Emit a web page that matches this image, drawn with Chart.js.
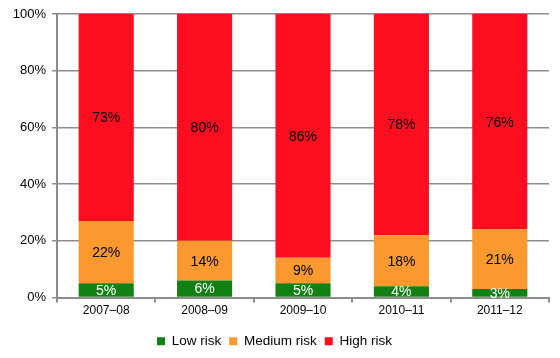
<!DOCTYPE html>
<html>
<head>
<meta charset="utf-8">
<script src="https://cdn.jsdelivr.net/npm/chart.js@4/dist/chart.umd.min.js"></script>
<style>
  html, body { margin: 0; padding: 0; background: #fff; }
  #wrap { width: 560px; height: 358px; }
</style>
</head>
<body>
<div id="wrap"><canvas id="myChart" width="560" height="358"></canvas></div>
<script>
// data
const years = ['2007\u201308', '2008\u201309', '2009\u201310', '2010\u201311', '2011\u201312'];
const lowRisk = [5, 6, 5, 4, 3];
const mediumRisk = [22, 14, 9, 18, 21];
const highRisk = [73, 80, 86, 78, 76];
const yTicks = [0, 20, 40, 60, 80, 100];

const gridGrey = '#8c8c8c';
const fontFam = '"Liberation Sans", Arial, sans-serif';

// draws the % numbers in the middle of each segment
const segmentLabels = {
  id: 'segmentLabels',
  afterDatasetsDraw(chart) {
    const ctx = chart.ctx;
    ctx.save();
    ctx.font = '14px ' + fontFam;
    ctx.textAlign = 'center';
    ctx.textBaseline = 'middle';
    chart.data.datasets.forEach((ds, i) => {
      const meta = chart.getDatasetMeta(i);
      meta.data.forEach((bar, j) => {
        const p = bar.getCenterPoint();
        ctx.fillStyle = ds.labelColor;
        ctx.fillText(ds.data[j] + '%', p.x, p.y + 1);
      });
    });
    ctx.restore();
  }
};

let myChart = new Chart(document.getElementById('myChart').getContext('2d'), {
  type: 'bar',
  data: {
    labels: years,
    datasets: [
      { label: 'Low risk', data: lowRisk, backgroundColor: '#138013', labelColor: '#ffffff' },
      { label: 'Medium risk', data: mediumRisk, backgroundColor: '#fb992f', labelColor: '#000000' },
      { label: 'High risk', data: highRisk, backgroundColor: '#fc0d1f', labelColor: '#000000' }
    ]
  },
  options: {
    responsive: false,
    animation: false,
    layout: { padding: { top: 14, right: 11, left: 0, bottom: 0 } },
    datasets: { bar: { barPercentage: 0.56, categoryPercentage: 1.0 } },
    scales: {
      x: {
        stacked: true,
        grid: { display: true, drawOnChartArea: false, drawTicks: true, tickLength: 5, color: gridGrey, lineWidth: 2, offset: true },
        border: { display: true, color: gridGrey, width: 2 },
        ticks: { color: '#000', font: { size: 12, family: fontFam }, padding: 1 },
        afterFit(scale) { scale.height = 29; }
      },
      y: {
        stacked: true,
        min: 0,
        max: 100,
        afterBuildTicks(scale) { scale.ticks = yTicks.map(v => ({ value: v })); },
        grid: { color: gridGrey, lineWidth: 1.5, tickLength: 5 },
        border: { display: true, color: gridGrey, width: 2 },
        ticks: { color: '#000', font: { size: 13, family: fontFam }, padding: 6, callback: v => v + '%' },
        afterFit(scale) { scale.width = 57; }
      }
    },
    plugins: {
      legend: {
        position: 'bottom',
        labels: { boxWidth: 8, boxHeight: 8, color: '#000', font: { size: 13.5, family: fontFam }, padding: 8 }
      },
      tooltip: { enabled: false }
    }
  },
  plugins: [segmentLabels]
});
</script>
</body>
</html>
